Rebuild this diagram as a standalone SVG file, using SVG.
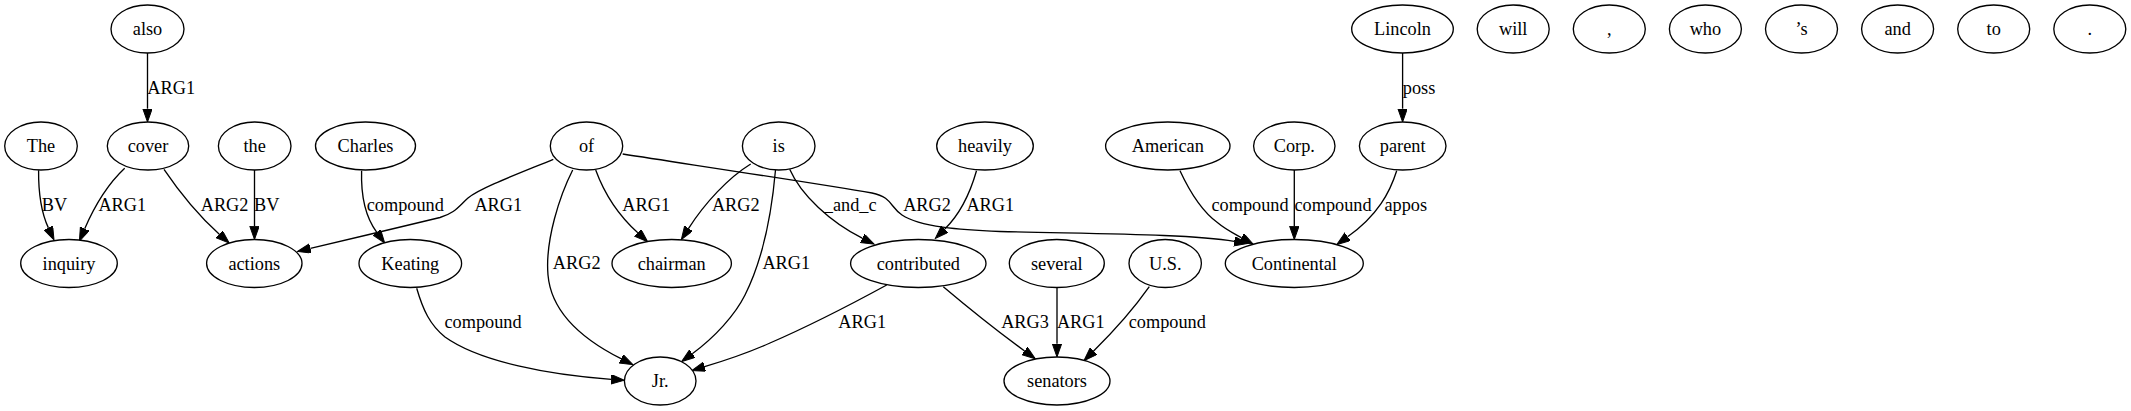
<svg xmlns="http://www.w3.org/2000/svg" width="2131" height="411" viewBox="0 0 2131 411">
<style>
.n ellipse{fill:#fff;stroke:#000;stroke-width:1.33}
text{font-family:'Liberation Serif','Times New Roman',Times,'DejaVu Serif',serif;font-size:18.3px;text-anchor:middle;fill:#000}
.e path{fill:none;stroke:#000;stroke-width:1.33;marker-end:url(#arr)}
</style>
<defs>
<marker id="arr" markerWidth="14" markerHeight="10" refX="0" refY="4.7" orient="auto" markerUnits="userSpaceOnUse" viewBox="0 0 14 10"><path d="M0,0 L13.3,4.7 L0,9.4 z" fill="#000" stroke="#000" stroke-width="1"/></marker>
</defs>
<rect width="2131" height="411" fill="#fff"/>
<g id="edges" class="e" font-family="Liberation Serif, serif">
<path d="M147.5,53 L147.5,108.7"/><text x="171.2" y="94">ARG1</text>
<path d="M1402.6,53 L1402.6,108.7"/><text x="1419" y="94">poss</text>
<path d="M38.6,170.2 C38.4,190 41,212 48.4,227.9"/><text x="54.5" y="210.5">BV</text>
<path d="M124.7,168.3 C110,182 95,205 84.7,228.8"/><text x="122.3" y="210.5">ARG1</text>
<path d="M164,169.3 C178,190 198,215 219.3,234.2"/><text x="224.6" y="210.5">ARG2</text>
<path d="M254.5,170 L254.5,226.2"/><text x="266.7" y="210.5">BV</text>
<path d="M361.6,170.7 C361,190 364,215 376.8,232.3"/><text x="405.3" y="210.5">compound</text>
<path d="M553.3,159.3 C520,173 480,188 468,198 C458,207 455,213 440,217.5 C405,226 350,239 310.4,248.4"/><text x="498.3" y="210.5">ARG1</text>
<path d="M416.7,288.3 C423,310 430,325 445,337 C480,362 550,375 611.2,379.3"/><text x="483" y="328.3">compound</text>
<path d="M595.7,170 C603,190 617,214 637.8,232.8"/><text x="646.2" y="210.5">ARG1</text>
<path d="M572.7,170 C560,195 545,240 548,275 C551,310 580,338 621,358.7"/><text x="576.7" y="269">ARG2</text>
<path d="M750.7,164 C728,178 705,203 688.6,228.3"/><text x="735.8" y="210.5">ARG2</text>
<path d="M775.5,170 C772,210 765,255 745,295 C735,315 715,337 692.3,353.7"/><text x="786.3" y="269">ARG1</text>
<path d="M789.7,169.3 C801,195 830,222 862.2,238.2"/><text x="850.2" y="210.5">_and_c</text>
<path d="M622.7,154 C700,166 820,184 872,193 C892,197 890,207 902,215 C920,227 960,230 1000,231.5 C1100,234 1190,234 1234.3,241.3"/><text x="927" y="210.5">ARG2</text>
<path d="M976.5,170.7 C971,190 962,212 944.8,229"/><text x="990.3" y="210.5">ARG1</text>
<path d="M886.7,285 C850,305 800,330 770,343 C750,352 730,359 704.6,366.7"/><text x="862.2" y="328.3">ARG1</text>
<path d="M943.3,286.7 C965,305 1000,333 1024.6,351"/><text x="1025" y="328.3">ARG3</text>
<path d="M1057,287.5 L1057,343.7"/><text x="1080.8" y="328.3">ARG1</text>
<path d="M1149.3,286.7 C1135,307 1115,330 1093.4,351.3"/><text x="1167.3" y="328.3">compound</text>
<path d="M1180,170.7 C1188,188 1200,210 1218,223 C1225,229 1233,233 1241.6,237.8"/><text x="1250" y="210.5">compound</text>
<path d="M1294.3,170 L1294.3,226.2"/><text x="1333" y="210.5">compound</text>
<path d="M1396.7,170.7 C1390,192 1378,215 1347.6,236.8"/><text x="1405.8" y="210.5">appos</text>
</g>
<g id="n-also" class="n"><ellipse cx="147.5" cy="29" rx="36.5" ry="24"/><text x="147.5" y="35">also</text></g>
<g id="n-Lincoln" class="n"><ellipse cx="1402.5" cy="29" rx="50.8" ry="24"/><text x="1402.5" y="35">Lincoln</text></g>
<g id="n-will" class="n"><ellipse cx="1513.2" cy="29" rx="36" ry="24"/><text x="1513.2" y="35">will</text></g>
<g id="n-comma" class="n"><ellipse cx="1609.3" cy="29" rx="36" ry="24"/><text x="1609.3" y="35">,</text></g>
<g id="n-who" class="n"><ellipse cx="1705.4" cy="29" rx="36" ry="24"/><text x="1705.4" y="35">who</text></g>
<g id="n-s" class="n"><ellipse cx="1801.5" cy="29" rx="36" ry="24"/><text x="1801.5" y="35">’s</text></g>
<g id="n-and" class="n"><ellipse cx="1897.6" cy="29" rx="36" ry="24"/><text x="1897.6" y="35">and</text></g>
<g id="n-to" class="n"><ellipse cx="1993.7" cy="29" rx="36" ry="24"/><text x="1993.7" y="35">to</text></g>
<g id="n-period" class="n"><ellipse cx="2089.8" cy="29" rx="36" ry="24"/><text x="2089.8" y="35">.</text></g>
<g id="n-The" class="n"><ellipse cx="41" cy="146" rx="36.3" ry="24"/><text x="41" y="152">The</text></g>
<g id="n-cover" class="n"><ellipse cx="148" cy="146" rx="40.7" ry="24"/><text x="148" y="152">cover</text></g>
<g id="n-the" class="n"><ellipse cx="254.7" cy="146" rx="36.3" ry="24"/><text x="254.7" y="152">the</text></g>
<g id="n-Charles" class="n"><ellipse cx="365.5" cy="146" rx="50" ry="24"/><text x="365.5" y="152">Charles</text></g>
<g id="n-of" class="n"><ellipse cx="586.5" cy="146" rx="36.2" ry="24"/><text x="586.5" y="152">of</text></g>
<g id="n-is" class="n"><ellipse cx="778.7" cy="146" rx="36.3" ry="24"/><text x="778.7" y="152">is</text></g>
<g id="n-heavily" class="n"><ellipse cx="985" cy="146" rx="48.3" ry="24"/><text x="985" y="152">heavily</text></g>
<g id="n-American" class="n"><ellipse cx="1167.8" cy="146" rx="62.2" ry="24"/><text x="1167.8" y="152">American</text></g>
<g id="n-Corp" class="n"><ellipse cx="1294.3" cy="146" rx="40.7" ry="24"/><text x="1294.3" y="152">Corp.</text></g>
<g id="n-parent" class="n"><ellipse cx="1402.7" cy="146" rx="43.3" ry="24"/><text x="1402.7" y="152">parent</text></g>
<g id="n-inquiry" class="n"><ellipse cx="69" cy="263.5" rx="48.3" ry="24"/><text x="69" y="269.5">inquiry</text></g>
<g id="n-actions" class="n"><ellipse cx="254.3" cy="263.5" rx="47.7" ry="24"/><text x="254.3" y="269.5">actions</text></g>
<g id="n-Keating" class="n"><ellipse cx="410.3" cy="263.5" rx="51.3" ry="24"/><text x="410.3" y="269.5">Keating</text></g>
<g id="n-chairman" class="n"><ellipse cx="671.7" cy="263.5" rx="59.7" ry="24"/><text x="671.7" y="269.5">chairman</text></g>
<g id="n-contributed" class="n"><ellipse cx="918.3" cy="263.5" rx="67.7" ry="24"/><text x="918.3" y="269.5">contributed</text></g>
<g id="n-several" class="n"><ellipse cx="1056.8" cy="263.5" rx="47.5" ry="24"/><text x="1056.8" y="269.5">several</text></g>
<g id="n-US" class="n"><ellipse cx="1165.2" cy="263.5" rx="36.2" ry="24"/><text x="1165.2" y="269.5">U.S.</text></g>
<g id="n-Continental" class="n"><ellipse cx="1294.3" cy="263.5" rx="69" ry="24"/><text x="1294.3" y="269.5">Continental</text></g>
<g id="n-Jr" class="n"><ellipse cx="660.2" cy="381" rx="35.8" ry="24"/><text x="660.2" y="387">Jr.</text></g>
<g id="n-senators" class="n"><ellipse cx="1057" cy="381" rx="53" ry="24"/><text x="1057" y="387">senators</text></g>
</svg>
